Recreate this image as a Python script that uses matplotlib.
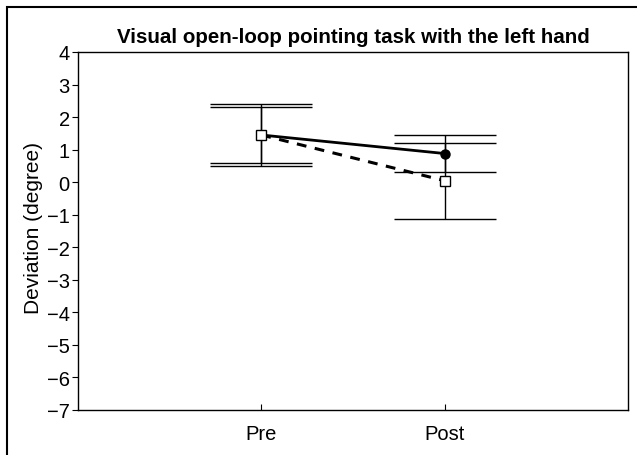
import matplotlib
matplotlib.use("Agg")
import matplotlib.pyplot as plt
from matplotlib.patches import Rectangle

# ---------------------------------------------------------------
# Datos
conditions = ["Pre", "Post"]
solid_mean = [1.45, 0.88]
solid_err = [0.96, 0.57]
dashed_mean = [1.45, 0.045]
dashed_err = [0.85, 1.165]
y_ticks = list(range(-7, 5))

plt.rcParams['font.family'] = ['Liberation Sans', 'DejaVu Sans']

fig = plt.figure(figsize=(6.37, 4.56), dpi=100)
ax = fig.add_axes([78 / 637, 1 - 411 / 456, 550 / 637, 358 / 456])

x = [1, 2]

# barras de error
ax.errorbar(x, solid_mean, yerr=solid_err, fmt='none', ecolor='black',
            elinewidth=1, capsize=37, capthick=1, zorder=2)
ax.errorbar(x, dashed_mean, yerr=dashed_err, fmt='none', ecolor='black',
            elinewidth=1, capsize=37, capthick=1, zorder=2)

# lineas
ax.plot(x, solid_mean, color='black', lw=2, marker='o', markersize=6.5,
        markerfacecolor='black', zorder=3)
ax.plot(x, dashed_mean, color='black', lw=2.2, ls=(0, (3.2, 2.8)), marker='s',
        markersize=7, markerfacecolor='white', markeredgecolor='black',
        markeredgewidth=1, zorder=4)

ax.set_xlim(0, 3)
ax.set_ylim(-7, 4)
ax.set_xticks(x)
ax.set_xticklabels(conditions)
ax.set_yticks(y_ticks)
ax.tick_params(axis='y', direction='out', length=4, labelsize=14.5, pad=2)
ax.tick_params(axis='x', direction='in', length=4, labelsize=14.5, pad=10)
ax.set_ylabel("Deviation (degree)", fontsize=15)
ax.yaxis.set_label_coords(-0.063, 0.51)
ax.set_title("Visual open-loop pointing task with the left hand",
             fontsize=14.8, fontweight='bold', pad=7)
for s in ax.spines.values():
    s.set_linewidth(1)

# marco exterior
fig.patches.append(Rectangle((7 / 637, -0.2), 1.2, 1.2 - 8 / 456,
                             transform=fig.transFigure, fill=False,
                             edgecolor='black', lw=1.5, figure=fig))

fig.savefig("out.png", dpi=100)
